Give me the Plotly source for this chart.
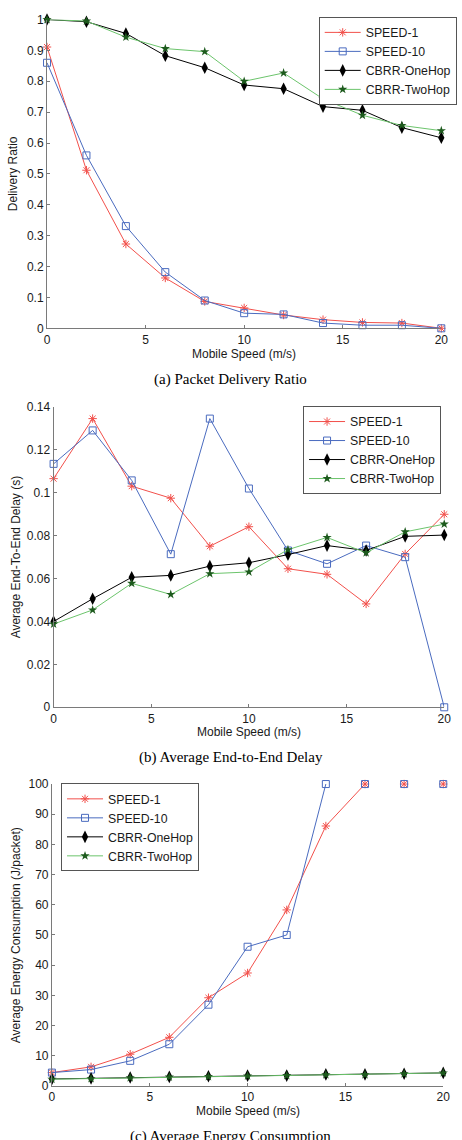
import plotly.graph_objects as go

# ---------------- data ----------------
speed = [0, 2, 4, 6, 8, 10, 12, 14, 16, 18, 20]
series_names = ["SPEED-1", "SPEED-10", "CBRR-OneHop", "CBRR-TwoHop"]

pdr_speed1 = [0.911, 0.512, 0.273, 0.163, 0.087, 0.066, 0.043, 0.028, 0.019, 0.017, 0.0]
pdr_speed10 = [0.860, 0.560, 0.331, 0.182, 0.090, 0.049, 0.045, 0.017, 0.010, 0.010, 0.0]
pdr_onehop = [1.0, 0.993, 0.955, 0.883, 0.844, 0.788, 0.776, 0.718, 0.706, 0.650, 0.617]
pdr_twohop = [1.0, 0.995, 0.943, 0.906, 0.896, 0.800, 0.827, 0.743, 0.690, 0.657, 0.640]

delay_speed1 = [0.1066, 0.1346, 0.1031, 0.0975, 0.0751, 0.0842, 0.0646, 0.0620, 0.0482, 0.0715, 0.0900]
delay_speed10 = [0.1135, 0.1291, 0.1058, 0.0714, 0.1346, 0.1020, 0.0731, 0.0669, 0.0754, 0.0700, 0.0]
delay_onehop = [0.0400, 0.0506, 0.0606, 0.0615, 0.0658, 0.0674, 0.0712, 0.0754, 0.0731, 0.0797, 0.0803]
delay_twohop = [0.0388, 0.0454, 0.0578, 0.0526, 0.0623, 0.0631, 0.0735, 0.0792, 0.0720, 0.0818, 0.0854]

energy_speed1 = [4.4, 6.3, 10.5, 16.1, 29.2, 37.4, 58.3, 86.1, 100, 100, 100]
energy_speed10 = [4.4, 5.4, 8.3, 13.8, 26.9, 46.1, 50.0, 100, 100, 100, 100]
energy_onehop = [2.3, 2.5, 2.8, 3.0, 3.2, 3.4, 3.4, 3.8, 3.8, 4.0, 4.3]
energy_twohop = [2.2, 2.4, 2.7, 2.9, 3.1, 3.3, 3.4, 3.7, 3.7, 4.0, 4.3]
energy_cap = 100

x_ticks = [0, 5, 10, 15, 20]

captions = ["(a) Packet Delivery Ratio", "(b) Average End-to-End Delay", "(c) Average Energy Consumption"]
x_title = "Mobile Speed (m/s)"
y_titles = ["Delivery Ratio", "Average End-To-End Delay (s)", "Average Energy Consumption (J/packet)"]

# ---------------- styles ----------------
W, H = 462, 1140
SANS = "Liberation Sans, Arial, Helvetica, sans-serif"
SERIF = "Liberation Serif, Times New Roman, serif"

styles = {
    "SPEED-1": dict(line=dict(color="#f2504b", width=1),
                    marker=dict(symbol="asterisk-open", size=7, color="#f2504b",
                                line=dict(color="#f2504b", width=1))),
    "SPEED-10": dict(line=dict(color="#4a6bbf", width=1),
                     marker=dict(symbol="square-open", size=7, color="#4a6bbf",
                                 line=dict(color="#4a6bbf", width=1))),
    "CBRR-OneHop": dict(line=dict(color="#000000", width=1),
                        marker=dict(symbol="diamond-tall", size=9, color="#000000",
                                    line=dict(color="#000000", width=0))),
    "CBRR-TwoHop": dict(line=dict(color="#6cc46c", width=1),
                        marker=dict(symbol="star", size=7, color="#1d5a1d",
                                    line=dict(color="#1d5a1d", width=0))),
}

panels = [
    dict(data=[pdr_speed1, pdr_speed10, pdr_onehop, pdr_twohop], yrange=[0, 1], dtick=0.1,
         xdom=[45 / W, 448 / W], ydom=[1 - 325.3 / H, 1 - 12.7 / H],
         legend=dict(x=322.7 / W, y=1 - 10 / H, xanchor="left")),
    dict(data=[delay_speed1, delay_speed10, delay_onehop, delay_twohop], yrange=[0, 0.14], dtick=0.02,
         xdom=[51.7 / W, 451 / W], ydom=[1 - 709 / H, 1 - 405 / H],
         legend=dict(x=306.7 / W, y=1 - 404 / H, xanchor="left")),
    dict(data=[energy_speed1, energy_speed10, energy_onehop, energy_twohop], yrange=[0, 100], dtick=10,
         xdom=[50 / W, 450 / W], ydom=[1 - 1092.3 / H, 1 - 786.7 / H],
         legend=dict(x=59.3 / W, y=1 - 786 / H, xanchor="left")),
]

fig = go.Figure()
legend_keys = ["legend", "legend2", "legend3"]

for pi, p in enumerate(panels):
    xa = "x" if pi == 0 else f"x{pi + 1}"
    ya = "y" if pi == 0 else f"y{pi + 1}"
    for name, vals in zip(series_names, p["data"]):
        st = styles[name]
        line_vals = list(vals)
        extra_idx = []
        if pi == 2 and energy_cap in vals:
            first = vals.index(energy_cap)
            line_vals = [v if i <= first else None for i, v in enumerate(vals)]
            extra_idx = [i for i in range(first + 1, len(vals))]
        fig.add_trace(go.Scatter(
            x=speed, y=line_vals, name=name, mode="lines+markers",
            line=st["line"], marker=st["marker"], xaxis=xa, yaxis=ya,
            legend=legend_keys[pi], cliponaxis=False, connectgaps=False,
        ))
        if extra_idx:
            fig.add_trace(go.Scatter(
                x=[speed[i] for i in extra_idx], y=[vals[i] for i in extra_idx],
                mode="markers", marker=st["marker"], xaxis=xa, yaxis=ya,
                showlegend=False, cliponaxis=False, legend=legend_keys[pi],
            ))

axis_common = dict(
    showline=True, linecolor="#7a7a7a", linewidth=1, mirror=False,
    ticks="inside", ticklen=3, tickcolor="#7a7a7a", tickwidth=1,
    showgrid=False, zeroline=False,
    tickfont=dict(family=SANS, size=12, color="#1a1a1a"),
)

layout = dict(
    width=W, height=H, margin=dict(l=0, r=0, t=0, b=0),
    paper_bgcolor="white", plot_bgcolor="white", showlegend=True,
)

for pi, p in enumerate(panels):
    xkey = "xaxis" if pi == 0 else f"xaxis{pi + 1}"
    ykey = "yaxis" if pi == 0 else f"yaxis{pi + 1}"
    ya = "y" if pi == 0 else f"y{pi + 1}"
    xa = "x" if pi == 0 else f"x{pi + 1}"
    layout[xkey] = dict(axis_common, domain=p["xdom"], range=[0, 20], tickvals=x_ticks,
                        anchor=ya, fixedrange=True)
    layout[ykey] = dict(axis_common, domain=p["ydom"], range=p["yrange"], dtick=p["dtick"],
                        tick0=0, anchor=xa, fixedrange=True)
    lg = p["legend"]
    layout[legend_keys[pi]] = dict(
        x=lg["x"], y=lg["y"], xanchor=lg["xanchor"], yanchor="top",
        bgcolor="white", bordercolor="#555555", borderwidth=1,
        font=dict(family=SANS, size=12.3, color="#1a1a1a"),
        itemwidth=36, tracegroupgap=0,
    )

fig.update_layout(**layout)

# axis titles and captions
x_title_y = [351.7, 734, 1117.7]
x_title_x = [246, 251, 250]
y_title_x = [10.5, 13.5, 13.5]
caption_y = [377.5, 760, 1144]
for pi, p in enumerate(panels):
    fig.add_annotation(text=x_title, xref="paper", yref="paper",
                       x=x_title_x[pi] / W, y=1 - x_title_y[pi] / H,
                       xanchor="center", yanchor="middle", showarrow=False,
                       font=dict(family=SANS, size=12, color="#1a1a1a"))
    fig.add_annotation(text=y_titles[pi], xref="paper", yref="paper",
                       x=y_title_x[pi] / W, y=(p["ydom"][0] + p["ydom"][1]) / 2,
                       xanchor="center", yanchor="middle", textangle=-90, showarrow=False,
                       font=dict(family=SANS, size=12, color="#1a1a1a"))
    fig.add_annotation(text=captions[pi], xref="paper", yref="paper",
                       x=233 / W, y=1 - caption_y[pi] / H,
                       xanchor="center", yanchor="middle", showarrow=False,
                       font=dict(family=SERIF, size=15, color="#000000"))

fig.write_html("out.html")
